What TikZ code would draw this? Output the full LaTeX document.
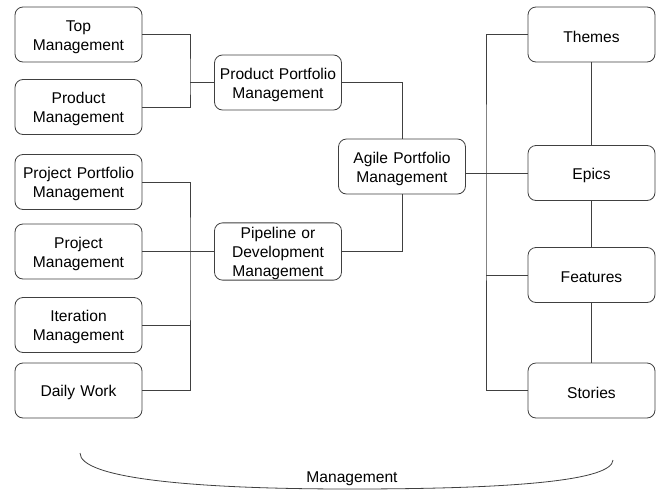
\documentclass[tikz,border=0pt]{standalone}
\usepackage{fontspec}
\setmainfont{Liberation Sans}
\usetikzlibrary{positioning,calc}

\begin{document}
\begin{tikzpicture}[
    x=1pt, y=-1pt,
    unit/.style={rectangle, rounded corners=8pt, draw=black!75, line width=0.8pt, fill=white, text width=120pt, align=center, minimum width=127pt, minimum height=55pt, inner sep=0pt, text height=16pt, font=\fontsize{15.6}{19}\selectfont},
    link/.style={draw=black!75, line width=0.8pt},
]
\useasboundingbox (0,0) rectangle (656,493);

% Left column: management levels
\node[unit] (top) at (78.5,34.5) {Top\\Management};
\node[unit] (prodm) at (78.5,107) {Product\\Management};
\node[unit] (projport) at (78.5,182) {Project Portfolio\\Management};
\node[unit] (projm) at (78.5,251.5) {Project\\Management};
\node[unit] (iter) at (78.5,325) {Iteration\\Management};
\node[unit] (daily) at (78.5,390.5) {Daily Work};

% Middle column
\node[unit] (ppm) at (278,82.5) {Product Portfolio\\Management};
\node[unit] (pipe) at (278,251.5) {Pipeline or\\Development\\Management};
\node[unit] (agile) at (402,166.5) {Agile Portfolio\\Management};

% Right column: backlog items
\node[unit] (themes) at (591.5,34.5) {Themes};
\node[unit] (epics) at (591.5,173) {Epics};
\node[unit] (features) at (591.5,275) {Features};
\node[unit] (stories) at (591.5,390.5) {Stories};

% Junctions
\coordinate (jtop) at (190,82.5);
\coordinate (jlow) at (190,251.5);
\coordinate (bus) at (486,173);

% Left brackets
\draw[link] (top.east) -| (jtop) |- (prodm.east);
\draw[link] (jtop) -- (ppm.west);
\draw[link] (projport.east) -| (jlow) |- (daily.east);
\draw[link] (projm.east) -- (pipe.west);
\draw[link] (iter.east) -- (iter.east -| jlow);

% Into agile portfolio
\draw[link] (ppm.east) -| (agile.north);
\draw[link] (pipe.east) -| (agile.south);

% Right bus
\draw[link] (themes.west) -| (bus) |- (stories.west);
\draw[link] (agile.east |- epics.west) -- (epics.west);
\draw[link] (features.west) -- (features.west -| bus);

% Chain of backlog items
\draw[link] (themes) -- (epics);
\draw[link] (epics) -- (features);
\draw[link] (features) -- (stories);

% Bottom curve and label
\coordinate (cl) at (80,453);
\coordinate (cm) at (350,489);
\coordinate (cr) at (613,460);
\draw[link] (cl) .. controls (80,478) and (190,489) .. (cm) .. controls (520,489) and (612,480) .. (cr);
\node[font=\fontsize{15.6}{19}\selectfont] (mgmt) at (352,479) {Management};

\end{tikzpicture}
\end{document}
